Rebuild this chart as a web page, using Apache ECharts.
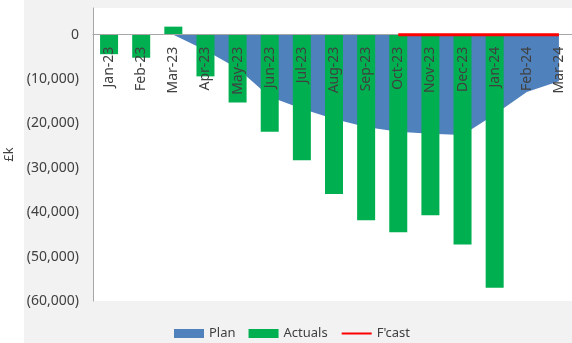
<!DOCTYPE html>
<html>
<head>
<meta charset="utf-8">
<script src="https://cdn.jsdelivr.net/npm/echarts@6/dist/echarts.min.js"></script>
<style>
  html, body { margin: 0; padding: 0; background: #ffffff; }
  #chart { width: 572px; height: 343px; }
</style>
</head>
<body>
<div id="chart"></div>
<script>
// Monthly cumulative position, £k
const months = ['Jan-23', 'Feb-23', 'Mar-23', 'Apr-23', 'May-23', 'Jun-23', 'Jul-23',
  'Aug-23', 'Sep-23', 'Oct-23', 'Nov-23', 'Dec-23', 'Jan-24', 'Feb-24', 'Mar-24'];
const plan = [0, 0, 0, -3500, -7600, -14000, -16700, -19000, -20800, -21900, -22300,
  -22600, -18000, -12900, -10500];
const actuals = [-4400, -5200, 1800, -9400, -15300, -21900, -28300, -35900, -41800,
  -44500, -40700, -47300, -57000, null, null];
const forecast = [null, null, null, null, null, null, null, null, null, 0, 0, 0, 0, 0, 0];
const yTicks = { min: -60000, max: 6000, step: 10000 };

const FONT = 'Noto Sans';
const TEXT = '#404040';

const GRID_TOP = 8;
const GRID_H = 293;
// distance from the bottom of the plot up to the zero line
const zeroOffset = GRID_H * (0 - yTicks.min) / (yTicks.max - yTicks.min);

function fmtK(v) {
  if (v > 0) return '';
  if (v === 0) return '0';
  return '(' + Math.abs(v).toLocaleString('en-GB') + ')';
}

const chart = echarts.init(document.getElementById('chart'), null, { renderer: 'canvas' });

chart.setOption({
  animation: false,
  backgroundColor: 'transparent',
  textStyle: { fontFamily: FONT },
  graphic: [{
    type: 'rect',
    z: -10,
    silent: true,
    shape: { x: 24, y: 0, width: 548, height: 343 },
    style: { fill: '#f2f2f2' }
  }],
  grid: {
    left: 93, top: GRID_TOP, width: 482, height: GRID_H,
    show: true, backgroundColor: '#ffffff', borderWidth: 0,
    containLabel: false,
    outerBoundsMode: 'none'
  },
  legend: {
    left: 169, top: 322,
    itemWidth: 30, itemHeight: 9, itemGap: 13,
    textStyle: { fontFamily: FONT, fontSize: 13, color: TEXT },
    data: [
      { name: 'Plan', icon: 'rect' },
      { name: 'Actuals', icon: 'rect' },
      { name: "F'cast", itemStyle: { opacity: 0 } }
    ]
  },
  xAxis: [
    {
      // zero line
      type: 'category',
      data: months,
      z: 5,
      axisLine: { onZero: true, lineStyle: { color: '#a6a6a6', width: 1 } },
      axisTick: { show: false },
      axisLabel: { show: false },
      splitLine: { show: false }
    },
    {
      // month labels hanging just under the zero line
      type: 'category',
      data: months,
      position: 'bottom',
      offset: -zeroOffset,
      z: 6,
      axisLine: { show: false, onZero: false },
      axisTick: { show: false },
      axisLabel: {
        interval: 0, rotate: 90, margin: 12,
        fontFamily: FONT, fontSize: 14, color: TEXT
      },
      splitLine: { show: false }
    }
  ],
  yAxis: {
    type: 'value',
    min: yTicks.min, max: yTicks.max, interval: yTicks.step,
    name: '£k',
    nameLocation: 'middle', nameRotate: 90, nameGap: 76,
    nameTextStyle: { fontFamily: FONT, fontSize: 13, color: TEXT },
    axisLine: { show: true, lineStyle: { color: '#a6a6a6', width: 1 } },
    axisTick: { show: false },
    splitLine: { show: false },
    axisLabel: {
      margin: 14, fontFamily: FONT, fontSize: 14, color: TEXT,
      formatter: fmtK
    }
  },
  series: [
    {
      name: 'Plan',
      type: 'line',
      data: plan,
      symbol: 'none',
      z: 1,
      color: '#4f81bd',
      lineStyle: { width: 0 },
      areaStyle: { color: '#4f81bd', opacity: 1 }
    },
    {
      name: 'Actuals',
      type: 'bar',
      data: actuals,
      barWidth: 18,
      z: 2,
      color: '#00b050',
      itemStyle: { color: '#00b050' }
    },
    {
      name: "F'cast",
      type: 'line',
      data: forecast,
      symbol: 'none',
      z: 10,
      color: '#ff0000',
      lineStyle: { color: '#ff0000', width: 3 }
    }
  ]
});
</script>
</body>
</html>
